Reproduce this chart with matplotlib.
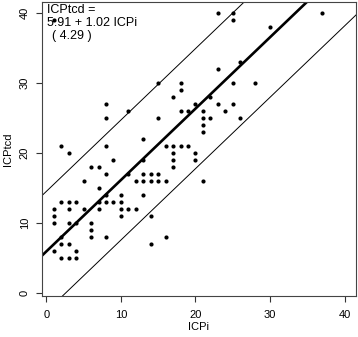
import matplotlib
matplotlib.use("Agg")
import matplotlib.pyplot as plt
import numpy as np

plt.rcParams['font.family'] = ['Liberation Sans', 'DejaVu Sans']

icpi = [23, 25, 37, 1, 25, 30, 26, 23,
        15, 18, 25, 28, 18, 17, 22,
        8, 20, 23, 25,
        11, 18, 19, 21, 24,
        8, 15, 21, 22, 26,
        21, 21, 13,
        2, 8, 16, 17, 18, 19,
        3, 17, 20,
        9, 13, 17, 20,
        6, 7, 17,
        8, 11, 13, 14, 15,
        5, 12, 13, 14, 15, 16, 21,
        7,
        8, 10, 13,
        2, 3, 4, 7, 8, 9, 10,
        1, 3, 5, 7, 10, 11, 12,
        1, 10, 14,
        1, 3, 4, 6,
        6,
        2, 6, 8, 16,
        2, 3, 14,
        1, 4,
        2, 3, 4]
icptcd = [40, 40, 40, 39, 39, 38, 33, 32,
          30, 30, 30, 30, 29, 28, 28,
          27, 27, 27, 27,
          26, 26, 26, 26, 26,
          25, 25, 25, 25, 25,
          24, 23, 22,
          21, 21, 21, 21, 21, 21,
          20, 20, 20,
          19, 19, 19, 19,
          18, 18, 18,
          17, 17, 17, 17, 17,
          16, 16, 16, 16, 16, 16, 16,
          15,
          14, 14, 14,
          13, 13, 13, 13, 13, 13, 13,
          12, 12, 12, 12, 12, 12, 12,
          11, 11, 11,
          10, 10, 10, 10,
          9,
          8, 8, 8, 8,
          7, 7, 7,
          6, 6,
          5, 5, 5]

intercept = 5.91
slope = 1.02
resid_sd = 4.29
x_ticks = [0, 10, 20, 30, 40]
y_ticks = [0, 10, 20, 30, 40]

fig = plt.figure(figsize=(3.58, 3.37), dpi=100)
ax = fig.add_axes([0.118, 0.1217, 0.8756, 0.8733])
ax.set_xlim(-0.56, 41.5)
ax.set_ylim(-0.47, 41.6)

ax.scatter(icpi, icptcd, s=9, color='black', linewidths=0, zorder=3)

xs = np.array([-5, 50])
ax.plot(xs, intercept + slope * xs, color='black', lw=1.9, zorder=2)
ax.plot(xs, intercept + slope * xs + 2 * resid_sd, color='black', lw=0.7, zorder=2)
ax.plot(xs, intercept + slope * xs - 2 * resid_sd, color='black', lw=0.7, zorder=2)

ax.set_xticks(x_ticks)
ax.set_yticks(y_ticks)
ax.set_xticklabels([str(v) for v in x_ticks], fontsize=8)
ax.set_yticklabels([str(v) for v in y_ticks], fontsize=8, rotation=90, va='center')
ax.tick_params(axis='both', length=4, width=0.8, color='#333333')
ax.tick_params(axis='x', pad=6)
ax.tick_params(axis='y', pad=5)
for sp in ax.spines.values():
    sp.set_linewidth(0.8)
    sp.set_color('#444444')

ax.set_xlabel('ICPi', fontsize=8, labelpad=1.5)
ax.set_ylabel('ICPtcd', fontsize=8, labelpad=5)

ax.text(0.014, 0.993, 'ICPtcd =', transform=ax.transAxes, fontsize=9,
        va='top', ha='left')
ax.text(0.014, 0.948, '5.91 + 1.02 ICPi', transform=ax.transAxes, fontsize=9,
        va='top', ha='left')
ax.text(0.032, 0.903, '( 4.29 )', transform=ax.transAxes, fontsize=9,
        va='top', ha='left')

fig.savefig('out.png', dpi=100)
